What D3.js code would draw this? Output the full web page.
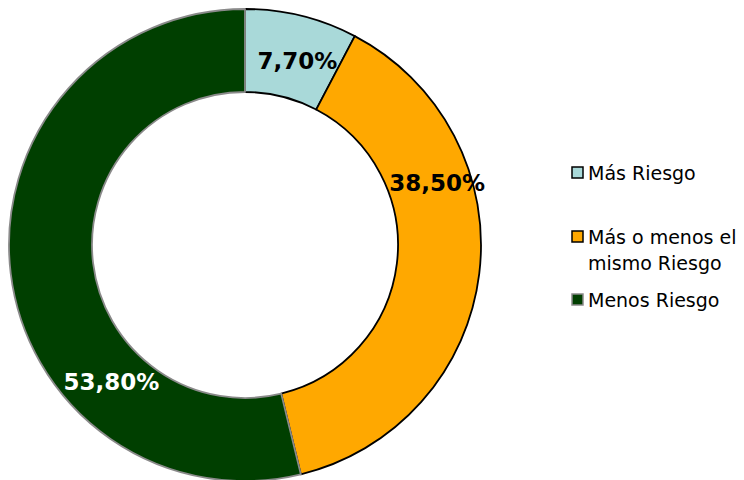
<!DOCTYPE html>
<html><head><meta charset="utf-8">
<script src="https://cdn.jsdelivr.net/npm/d3@7/dist/d3.min.js"></script>
<style>body{margin:0;background:#fff}svg{display:block}</style>
</head><body>
<svg id="c" width="744" height="480"></svg>
<script>
const categories = ["Más Riesgo", "Más o menos el mismo Riesgo", "Menos Riesgo"];
const values = [7.70, 38.50, 53.80];
const labels = ["7,70%", "38,50%", "53,80%"];
const legendLines = [["Más Riesgo"], ["Más o menos el", "mismo Riesgo"], ["Menos Riesgo"]];
const colors = ["#A9D9D9", "#FFA800", "#003F00"];
const strokes = ["#000", "#000", "#8a8a8a"];
const labelColors = ["#000", "#000", "#fff"];
// label placement: fraction along slice, radius
const labelFrac = [0.57, 0.32, 0.30];
const labelRad = [192, 202, 191];

const svg = d3.select("#c");
const cx = 245, cy = 245, R = 236, r = 153;
const pie = d3.pie().sort(null).value(d => d)(values);
const arc = d3.arc().innerRadius(r).outerRadius(R);
const g = svg.append("g").attr("transform", `translate(${cx},${cy})`);
g.selectAll("path").data(pie).join("path")
  .attr("d", arc).attr("fill", (d,i)=>colors[i])
  .attr("stroke", (d,i)=>strokes[i]).attr("stroke-width", 1.8).attr("stroke-linejoin","round");
g.selectAll("text").data(pie).join("text")
  .attr("transform", (d,i) => {
    const a = d.startAngle + (d.endAngle - d.startAngle) * labelFrac[i];
    return `translate(${labelRad[i]*Math.sin(a)},${-labelRad[i]*Math.cos(a)})`;
  })
  .attr("text-anchor", "middle").attr("dy", "0.36em")
  .attr("font-family", "DejaVu Sans, Verdana, sans-serif").attr("font-weight", "bold")
  .attr("font-size", 23).attr("fill", (d,i)=>labelColors[i])
  .text((d,i)=>labels[i]);

const legY = [173, 237, 300];
const lg = svg.append("g");
categories.forEach((c, i) => {
  lg.append("rect").attr("x", 572).attr("y", legY[i]-6).attr("width", 11).attr("height", 11)
    .attr("fill", colors[i]).attr("stroke", i===2 ? "#8a8a8a" : "#000").attr("stroke-width", 1.5);
  legendLines[i].forEach((t, j) => {
    lg.append("text").attr("x", 588).attr("y", legY[i] + j*26).attr("dy", "0.36em")
      .attr("font-family", "DejaVu Sans, Verdana, sans-serif").attr("font-size", 19)
      .attr("fill", "#000").text(t);
  });
});
</script>
</body></html>
